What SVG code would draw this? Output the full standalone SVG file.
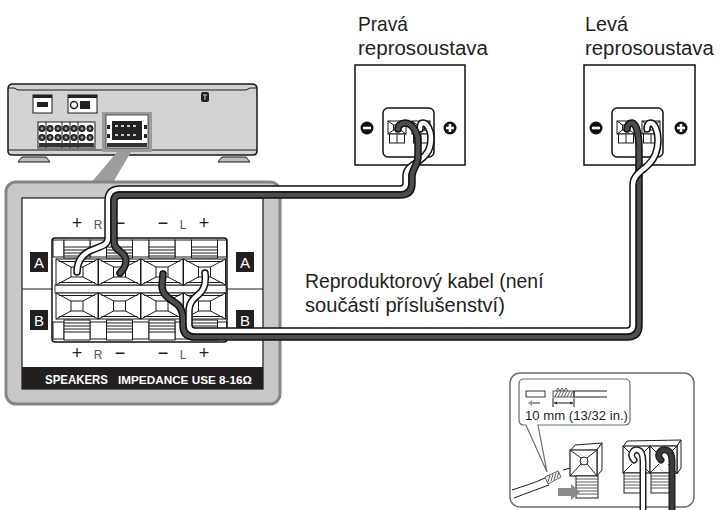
<svg xmlns="http://www.w3.org/2000/svg" width="722" height="510" viewBox="0 0 722 510">
<style>
.t{font-family:"Liberation Sans",Arial,sans-serif;fill:#231f20}
.lbl{font-size:21px}
.k{fill:#fff;stroke:#1a1a1a;stroke-width:1}
.ln{fill:none;stroke:#1a1a1a;stroke-width:1}
.wo{fill:none;stroke:#111;stroke-width:7.5;stroke-linecap:round;stroke-linejoin:round}
.ww{fill:none;stroke:#fff;stroke-width:4.5;stroke-linecap:round;stroke-linejoin:round}
.wb{fill:none;stroke:#4d4d4d;stroke-width:4.5;stroke-linecap:round;stroke-linejoin:round}
.io{fill:none;stroke:#222;stroke-width:7;stroke-linecap:round}
.hat{fill:none;stroke:#333;stroke-width:0.8}
</style>
<defs>
<g id="cell">
<rect x="-21" y="-13" width="42" height="26" class="k"/>
<rect x="-6" y="-5" width="12" height="10" class="k"/>
<path class="ln" d="M-21,-13 L-6,-5 M21,-13 L6,-5 M-21,13 L-6,5 M21,13 L6,5 M-18,-10.5 L18,-10.5 M-18,10.5 L18,10.5"/>
</g>
<g id="levT">
<rect x="-13" y="0" width="26" height="18" class="k"/>
<path class="ln" d="M-13,7 H13 M-13,10 H13 M-13,13 H13 M-13,16 H13"/>
</g>
<g id="levB">
<rect x="-13" y="0" width="26" height="20" class="k"/>
<path class="ln" d="M-13,3 H13 M-13,6 H13 M-13,9 H13 M-13,12 H13"/>
</g>
<g id="hole">
<rect x="0" y="0" width="18" height="13" class="k" stroke-width="1.2"/>
<rect x="5.5" y="4" width="7" height="5" class="k"/>
<path class="ln" d="M0,0 L5.5,4 M18,0 L12.5,4 M0,13 L5.5,9 M18,13 L12.5,9"/>
<rect x="1.5" y="13" width="15" height="9" class="k"/>
<path class="ln" d="M9,13 V22"/>
</g>
<g id="minus"><circle r="6.5" fill="#111"/><rect x="-4" y="-1.3" width="8" height="2.6" fill="#fff"/></g>
<g id="plus"><circle r="6.5" fill="#111"/><rect x="-4" y="-1.3" width="8" height="2.6" fill="#fff"/><rect x="-1.3" y="-4" width="2.6" height="8" fill="#fff"/></g>
<path id="rW" d="M77,272 C77,262 82,254 92,250 C102,246 108,245 108,238 L108,201 Q108,189 120,189 L400,189 Q406,189 406,183 L406,176 C406,168 412,166 420,160 C428,154 431,148 431,138 C431,130 427,123 423,123 C420,123 420,126 420,129"/>
<path id="rB" d="M120,273 C125,268 128,261 124,255 C120,250 114,249 114,242 L114,201 Q114,195 120,195 L400,195 Q412,195 412,183 L412,176 C412,170 417,166 418,158 L418,142 C418,132 412,123 405,123 C401,123 398,126 398,129"/>
<path id="lW" d="M205,273 C206,281 205,289 199,294 C193,299 189,303 189,311 L189,325 Q189,331 195,331 L627,331 Q633,331 633,325 L633,185 C633,176 640,172 647,166 C655,159 658,150 658,140 C658,130 654,123 651,123 C648,123 647,126 647,129"/>
<path id="lB" d="M163,274 L162,286 C162,296 172,300 178,305 C182,309 183,313 183,320 L183,325 Q183,337 195,337 L627,337 Q639,337 639,325 L639,150 C639,136 637,124 632,123 C629,123 627,126 627,129"/>
</defs>

<rect width="722" height="510" fill="#fff"/>

<g id="receiver">
<path d="M18,162 L22,157 L46,157 L50,162 Z" fill="#bdbdbd" stroke="#1a1a1a"/>
<path d="M218,162 L222,157 L246,157 L250,162 Z" fill="#bdbdbd" stroke="#1a1a1a"/>
<path d="M13,84 L252,84 Q257,84 257,89 L257,151 Q257,155 253,155 L12,155 Q8,155 8,151 L8,89 Q8,84 13,84 Z" fill="#d3d3d3" stroke="#1a1a1a" stroke-width="1.5"/>
<path class="ln" d="M8,88 H14 L18,90 H246 L250,88 H257 M8,150 H257"/>
<rect x="33" y="95" width="19" height="18" class="k"/>
<rect x="33" y="95" width="19" height="3" fill="#222"/>
<rect x="37" y="102" width="11" height="5" fill="#222"/>
<rect x="68" y="95" width="29" height="18" class="k"/>
<rect x="68" y="95" width="29" height="3" fill="#222"/>
<circle cx="74" cy="105" r="3.5" fill="#fff" stroke="#222" stroke-width="1.5"/>
<rect x="80" y="101" width="10" height="8" fill="#222"/>
<rect x="38" y="122" width="57" height="26" class="k"/>
<g fill="#333" stroke="#111" stroke-width="0.8">
<circle cx="42" cy="128.5" r="3.2"/><circle cx="50" cy="128.5" r="3.2"/><circle cx="58" cy="128.5" r="3.2"/><circle cx="66" cy="128.5" r="3.2"/><circle cx="74" cy="128.5" r="3.2"/><circle cx="82" cy="128.5" r="3.2"/><circle cx="90" cy="128.5" r="3.2"/>
<circle cx="42" cy="137.5" r="3.2"/><circle cx="50" cy="137.5" r="3.2"/><circle cx="58" cy="137.5" r="3.2"/><circle cx="66" cy="137.5" r="3.2"/><circle cx="74" cy="137.5" r="3.2"/><circle cx="82" cy="137.5" r="3.2"/><circle cx="90" cy="137.5" r="3.2"/>
</g>
<g fill="#aaa"><circle cx="42" cy="128.5" r="1.2"/><circle cx="50" cy="128.5" r="1.2"/><circle cx="58" cy="128.5" r="1.2"/><circle cx="66" cy="128.5" r="1.2"/><circle cx="74" cy="128.5" r="1.2"/><circle cx="82" cy="128.5" r="1.2"/><circle cx="90" cy="128.5" r="1.2"/><circle cx="42" cy="137.5" r="1.2"/><circle cx="50" cy="137.5" r="1.2"/><circle cx="58" cy="137.5" r="1.2"/><circle cx="66" cy="137.5" r="1.2"/><circle cx="74" cy="137.5" r="1.2"/><circle cx="82" cy="137.5" r="1.2"/><circle cx="90" cy="137.5" r="1.2"/></g>
<path class="ln" d="M46,122 V148 M62,122 V148 M70,122 V148 M78,122 V148"/>
<rect x="39" y="143" width="55" height="4" fill="#333"/>
<rect x="102" y="112" width="50" height="40" fill="#9a9a9a"/>
<rect x="106" y="115" width="42" height="33" fill="#fff" stroke="#333" stroke-width="0.8"/>
<rect x="112" y="121" width="30" height="19" fill="#222"/>
<path d="M115,126 H139 M115,135 H139" stroke="#fff" stroke-width="1.5" stroke-dasharray="3 3"/>
<rect x="107" y="125" width="3" height="4" fill="#222"/><rect x="144" y="125" width="3" height="4" fill="#222"/>
<rect x="107" y="134" width="3" height="4" fill="#222"/><rect x="144" y="134" width="3" height="4" fill="#222"/>
<rect x="107" y="143" width="40" height="4" fill="#333"/>
<rect x="201" y="92" width="8" height="10" rx="2" fill="#222"/>
<path d="M203,95 H207 M205,95 V100" stroke="#ccc" stroke-width="1"/>
</g>

<g id="speaker-panel">
<polygon points="117,152 131,152 112,184 90,184" fill="#9d9d9d"/>
<rect x="6" y="182" width="274" height="222" rx="10" fill="#c8c8c8" stroke="#868686" stroke-width="3"/>
<rect x="22" y="198" width="241" height="191" fill="#fff" stroke="#1a1a1a" stroke-width="1.2"/>
<path class="ln" d="M22,289 H263"/>
<rect x="52" y="238" width="175" height="104" rx="3" fill="#fff" stroke="#111" stroke-width="1.5"/>
<g class="k">
<rect x="53" y="240" width="11" height="17"/><rect x="90" y="240" width="16.5" height="17"/><rect x="132.5" y="240" width="16.5" height="17"/><rect x="175" y="240" width="16.5" height="17"/><rect x="217.5" y="240" width="9" height="17"/>
<rect x="53" y="322" width="11" height="17"/><rect x="90" y="322" width="16.5" height="17"/><rect x="132.5" y="322" width="16.5" height="17"/><rect x="175" y="322" width="16.5" height="17"/><rect x="217.5" y="322" width="9" height="17"/>
</g>
<use href="#levT" x="77" y="240"/><use href="#levT" x="119.5" y="240"/><use href="#levT" x="162" y="240"/><use href="#levT" x="204.5" y="240"/>
<use href="#levB" x="77" y="320"/><use href="#levB" x="119.5" y="320"/><use href="#levB" x="162" y="320"/><use href="#levB" x="204.5" y="320"/>
<rect x="55" y="285" width="171" height="8" fill="#fff" stroke="#111" stroke-width="0.8"/>
<use href="#cell" x="77" y="272"/><use href="#cell" x="119.5" y="272"/><use href="#cell" x="162" y="272"/><use href="#cell" x="204.5" y="272"/>
<use href="#cell" x="77" y="306"/><use href="#cell" x="119.5" y="306"/><use href="#cell" x="162" y="306"/><use href="#cell" x="204.5" y="306"/>
<rect x="30" y="252" width="18" height="20" fill="#231f20"/>
<rect x="236" y="252" width="18" height="20" fill="#231f20"/>
<rect x="30" y="310" width="18" height="20" fill="#231f20"/>
<rect x="236" y="310" width="18" height="20" fill="#231f20"/>
<g class="t" font-size="15" text-anchor="middle" style="fill:#fff">
<text x="39" y="267.5">A</text><text x="245" y="267.5">A</text>
<text x="39" y="325.5">B</text><text x="245" y="325.5">B</text>
</g>
<g class="t" font-size="18" text-anchor="middle">
<text x="77" y="229">+</text><text x="120" y="229">−</text><text x="163" y="229">−</text><text x="204" y="229">+</text>
<text x="77" y="359">+</text><text x="120" y="359">−</text><text x="163" y="359">−</text><text x="204" y="359">+</text>
</g>
<g class="t" font-size="12" text-anchor="middle" style="fill:#555">
<text x="98" y="228.5">R</text><text x="183" y="228.5">L</text>
<text x="98" y="358.5">R</text><text x="183" y="358.5">L</text>
</g>
<rect x="22" y="367" width="241" height="22" fill="#231f20"/>
<text class="t" x="45" y="384" font-size="12.5" font-weight="bold" textLength="63" lengthAdjust="spacingAndGlyphs" style="fill:#fff">SPEAKERS</text>
<text class="t" x="118" y="384" font-size="11.5" font-weight="bold" textLength="134" lengthAdjust="spacingAndGlyphs" style="fill:#fff">IMPEDANCE USE 8-16Ω</text>
</g>

<g id="speaker-right">
<rect x="355" y="65" width="110" height="100" fill="#fff" stroke="#111" stroke-width="1.5"/>
<rect x="383" y="108" width="51" height="49" rx="5" fill="#fff" stroke="#111" stroke-width="1.5"/>
<use href="#hole" x="388" y="121"/><use href="#hole" x="412" y="121"/>
<use href="#minus" x="367" y="128"/><use href="#plus" x="450" y="128"/>
</g>

<g id="speaker-left">
<rect x="584" y="65" width="111" height="100" fill="#fff" stroke="#111" stroke-width="1.5"/>
<rect x="612" y="108" width="51" height="49" rx="5" fill="#fff" stroke="#111" stroke-width="1.5"/>
<use href="#hole" x="617" y="121"/><use href="#hole" x="642" y="121"/>
<use href="#minus" x="596" y="128"/><use href="#plus" x="681" y="128"/>
</g>

<g id="connectors">
<use href="#rW" class="wo"/><use href="#rW" class="ww"/>
<use href="#rB" class="wo"/><use href="#rB" class="wb"/>
<use href="#lB" class="wo"/><use href="#lB" class="wb"/>
<use href="#lW" class="wo"/><use href="#lW" class="ww"/>
</g>

<g id="labels">
<text class="t lbl" transform="translate(358,31) scale(0.909,1)">Pravá</text>
<text class="t lbl" transform="translate(358,55) scale(0.977,1)">reprosoustava</text>
<text class="t lbl" transform="translate(585,31) scale(0.944,1)">Levá</text>
<text class="t lbl" transform="translate(585,55) scale(0.969,1)">reprosoustava</text>
<text class="t lbl" transform="translate(305,288) scale(0.925,1)">Reproduktorový kabel (není</text>
<text class="t lbl" transform="translate(305,312) scale(0.957,1)">součástí příslušenství)</text>
</g>

<g id="inset">
<rect x="510" y="373" width="184" height="134" rx="10" fill="#fff" stroke="#6d6d6d" stroke-width="1.5"/>
<path d="M538,425 L625,425 Q630,425 630,420 L630,384 Q630,379 625,379 L524,379 Q519,379 519,384 L519,420 Q519,425 524,425 L526,425 L547,472 Z" fill="#fff" stroke="#6d6d6d" stroke-width="1.2"/>
<rect x="526" y="391" width="19" height="6" fill="#fff" stroke="#333" stroke-width="1"/>
<path d="M528,403 L532,400 L532,402 L540,402 L540,404 L532,404 L532,406 Z" fill="#999"/>
<rect x="553" y="391" width="21" height="6" fill="#fff" stroke="#333" stroke-width="0.8"/>
<path class="hat" d="M555,397 L558,391 M558,397 L561,391 M561,397 L564,391 M564,397 L567,391 M567,397 L570,391 M570,397 L573,391 M556,391 l2,-3 l2,3 l2,-3 l2,3 l2,-3 l2,3"/>
<path class="ln" d="M574,391 H607 M574,397 H607 M574,391 V397"/>
<path class="ln" stroke-width="0.8" d="M553,398 V407 M574,398 V407 M554,403 H573"/>
<path d="M553.5,403 L557,401.5 L557,404.5 Z M573.5,403 L570,401.5 L570,404.5 Z" fill="#333"/>
<text class="t" x="525" y="420" font-size="13" textLength="103" lengthAdjust="spacingAndGlyphs">10 mm (13/32 in.)</text>
<path class="ln" d="M512,490 C524,486 534,483 545,478 M514,498 C527,493 538,489 549,485"/>
<polygon points="545,477 558,471 561,477 548,484" fill="#fff" stroke="#333" stroke-width="0.8"/>
<path class="hat" d="M548,482 L550,475 M551,481 L553,474 M554,480 L556,473 M557,478 L559,472"/>
<path class="ln" stroke-width="0.8" d="M563,470 L592,462"/>
<path d="M570,451 L575,445 L602,443 L597,450 Z" fill="#fff" stroke="#222" stroke-width="1"/>
<path d="M597,450 L602,443 L602,470 L597,476 Z" fill="#fff" stroke="#222" stroke-width="1"/>
<rect x="570" y="450" width="27" height="26" fill="#fff" stroke="#222" stroke-width="1.2"/>
<circle cx="584" cy="461" r="4" fill="#fff" stroke="#222"/>
<path class="ln" d="M570,450 L581,458 M597,450 L587,458 M570,476 L581,464 M597,476 L587,464"/>
<rect x="576" y="476" width="22" height="22" fill="#fff" stroke="#222"/>
<path class="hat" d="M576,479 H598 M576,482 H598 M576,485 H598 M576,488 H598 M576,491 H598 M576,494 H598"/>
<path d="M558,488 L571,488 L571,484 L580,492 L571,500 L571,496 L558,496 Z" fill="#8a8a8a"/>
<path d="M623,447 L627,441 L681,440 L677,446 Z" fill="#fff" stroke="#222" stroke-width="1"/>
<path d="M677,446 L681,440 L681,468 L677,474 Z" fill="#fff" stroke="#222" stroke-width="1"/>
<rect x="623" y="446" width="27" height="27" fill="#fff" stroke="#222" stroke-width="1.2"/>
<rect x="650" y="446" width="27" height="27" fill="#fff" stroke="#222" stroke-width="1.2"/>
<path class="ln" d="M623,446 L632,455 M650,446 L641,455 M623,473 L632,464 M650,473 L641,464 M650,446 L659,455 M677,446 L668,455 M650,473 L659,464 M677,473 L668,464"/>
<rect x="624" y="473" width="20" height="20" fill="#fff" stroke="#222"/>
<rect x="651" y="473" width="20" height="20" fill="#fff" stroke="#222"/>
<path class="hat" d="M624,476 H644 M624,479 H644 M624,482 H644 M624,485 H644 M624,488 H644 M651,476 H671 M651,479 H671 M651,482 H671 M651,485 H671 M651,488 H671"/>
<path class="io" d="M634,460 C629,455 633,449 638,450 C642,451 643,456 643,462 L643,512"/>
<path d="M634,460 C629,455 633,449 638,450 C642,451 643,456 643,462 L643,512" fill="none" stroke="#fff" stroke-width="4" stroke-linecap="round"/>
<path class="io" d="M661,460 C656,455 660,449 666,450 C671,451 672,457 672,462 L672,512"/>
<path d="M661,460 C656,455 660,449 666,450 C671,451 672,457 672,462 L672,512" fill="none" stroke="#3a3a3a" stroke-width="4" stroke-linecap="round"/>
</g>
</svg>
